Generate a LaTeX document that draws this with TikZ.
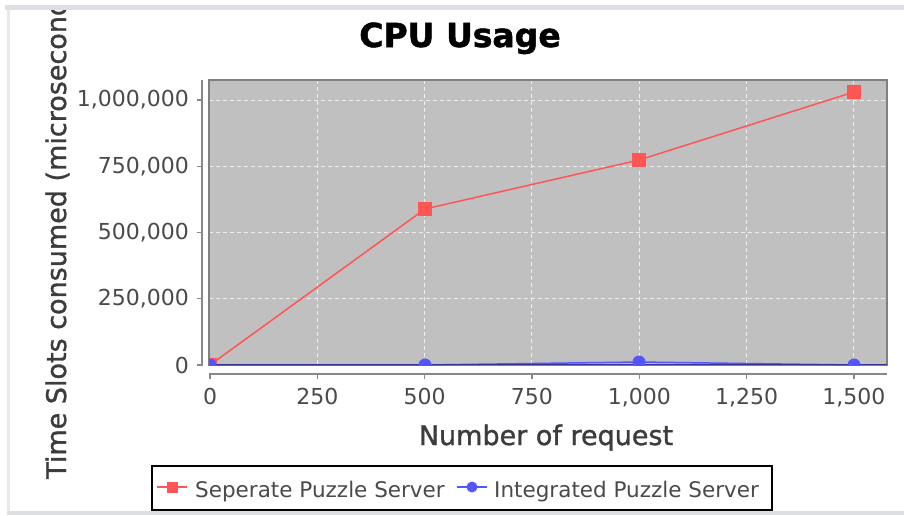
\documentclass[tikz,border=0pt]{standalone}
\usepackage{fontspec}
\setmainfont{DejaVu Sans}
\newfontfamily\axisfont[FakeBold=1.2]{DejaVu Sans}
\newfontfamily\titlefont[FakeBold=1.5]{DejaVu Sans Bold}
\definecolor{framegray}{HTML}{DCDFE4}
\definecolor{plotgray}{HTML}{C0C0C0}
\definecolor{outlinegray}{HTML}{808080}
\definecolor{axisgray}{HTML}{888888}
\definecolor{tickgray}{HTML}{4A4A4A}
\definecolor{labelgray}{HTML}{3C3C3C}
\definecolor{gridwhite}{HTML}{EDEDED}
\definecolor{seriesred}{HTML}{FF5555}
\definecolor{seriesblue}{HTML}{5555FF}
\begin{document}
\begin{tikzpicture}[x=1pt,y=-1pt,
  axisline/.style={draw=axisgray, line width=1.2pt},
  ticklabel/.style={font=\fontsize{22}{24}\selectfont, text=tickgray, inner sep=0pt},
  gridline/.style={draw=gridwhite, line width=1pt, dash pattern=on 4pt off 3pt},
  axislabel/.style={font=\axisfont\fontsize{27}{30}\selectfont, text=labelgray, inner sep=0pt},
  legendtext/.style={font=\fontsize{21.5}{24}\selectfont, text=tickgray, inner sep=0pt, anchor=base west},
  redline/.style={draw=seriesred, line width=1.5pt},
  blueline/.style={draw=seriesblue, line width=1.5pt},
  redmark/.style={fill=seriesred, draw=none, rectangle, minimum size=#1, inner sep=0pt},
  bluemark/.style={fill=seriesblue, draw=none, circle, minimum size=#1, inner sep=0pt}]
\useasboundingbox (0,0) rectangle (904,515);
\fill[white] (0,0) rectangle (904,515);

% panel frame
\fill[framegray] (5,5) rectangle (904,10);
\fill[framegray!70!white] (7,10) rectangle (10,515);
\fill[framegray] (7,511) rectangle (904,515);

% title
\node[font=\titlefont\fontsize{33}{36}\selectfont, anchor=base, inner sep=0pt] (title) at (460,47) {CPU Usage};

% plot background and grid
\fill[plotgray] (209,80) rectangle (887,365);
\foreach \v in {250,500,750,1000} {
  \pgfmathsetmacro\yy{365-\v*0.265}
  \draw[gridline] (209,\yy) -- (887,\yy);
}
\foreach \v in {250,500,750,1000,1250,1500} {
  \pgfmathsetmacro\xx{210+\v*0.4293}
  \draw[gridline] (\xx,80) -- (\xx,365);
}
\draw[draw=outlinegray, line width=1.5pt] (209,80) rectangle (887,365);

% value axis
\draw[axisline] (202,80) -- (202,366);
\foreach \v/\t in {0/0,250/{250,000},500/{500,000},750/{750,000},1000/{1,000,000}} {
  \pgfmathsetmacro\yy{365-\v*0.265}
  \draw[axisline] (197,\yy) -- (202,\yy);
  \node[ticklabel, anchor=east] at (189,\yy) {\t};
}

% category axis
\draw[axisline] (209,374) -- (887,374);
\foreach \v/\t in {0/0,250/250,500/500,750/750,1000/{1,000},1250/{1,250},1500/{1,500}} {
  \pgfmathsetmacro\xx{210+\v*0.4293}
  \draw[axisline] (\xx,374) -- (\xx,379);
  \node[ticklabel, anchor=base] at (\xx,404) {\t};
}

% axis titles (the value-axis title runs past the panel top and is cut there)
\node[axislabel, anchor=base] (xlabel) at (546,445) {Number of request};
\begin{scope}
  \clip (10,10) rectangle (904,511);
  \node[axislabel, anchor=base west, rotate=90] (ylabel) at (66,479) {Time Slots consumed (microseconds)};
\end{scope}

% data series
\coordinate (s0) at (210,365);
\coordinate (s1) at (425,209);
\coordinate (s2) at (639,160);
\coordinate (s3) at (854,92);
\coordinate (i0) at (210,365);
\coordinate (i1) at (425,365);
\coordinate (i2) at (639,362);
\coordinate (i3) at (854,365);
\begin{scope}
  \clip (209,80) rectangle (887,365);
  \draw[redline] (s0) -- (s1) -- (s2) -- (s3);
  \foreach \p in {s0,s1,s2,s3} \node[redmark=14pt] at (\p) {};
  \draw[blueline] (i0) -- (i1) -- (i2) -- (i3);
  \draw[draw=seriesblue!60!black, line width=1pt] (209,364.5) -- (887,364.5);
  \foreach \p in {i0,i1,i2,i3} \node[bluemark=13pt] at (\p) {};
\end{scope}

% legend
\draw[line width=1.5pt] (152,466) rectangle (772,510);
\coordinate (la) at (157,487);
\coordinate (lb) at (187,487);
\draw[redline] (la) -- (lb);
\node[redmark=11pt] (lm1) at (172,487) {};
\node[legendtext] (lt1) at (195,497) {Seperate Puzzle Server};
\coordinate (lc) at (457,487);
\coordinate (ld) at (487,487);
\draw[blueline] (lc) -- (ld);
\node[bluemark=11pt] (lm2) at (472,487) {};
\node[legendtext] (lt2) at (494,497) {Integrated Puzzle Server};
\end{tikzpicture}
\end{document}
